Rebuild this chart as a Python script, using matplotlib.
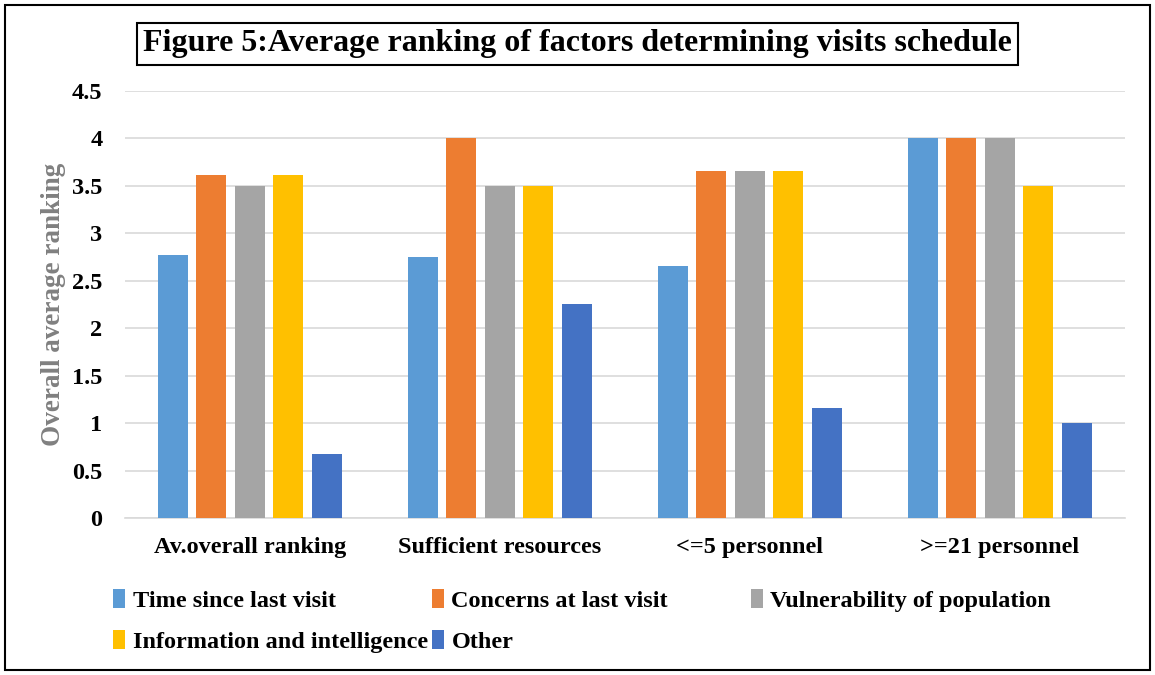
import matplotlib.pyplot as plt
import numpy as np
from matplotlib.patches import Rectangle

plt.rcParams['font.family'] = ['Liberation Serif', 'DejaVu Serif']
plt.rcParams['font.weight'] = 'bold'

# groups on the x axis
categories = ['Av.overall ranking', 'Sufficient resources', '<=5 personnel', '>=21 personnel']

# average ranking per factor, one list per series
time_since = [2.77, 2.75, 2.66, 4.0]
concerns = [3.61, 4.0, 3.66, 4.0]
vulnerability = [3.5, 3.5, 3.66, 4.0]
information = [3.61, 3.5, 3.66, 3.5]
other = [0.67, 2.25, 1.16, 1.0]

series = [time_since, concerns, vulnerability, information, other]
labels = ['Time since last visit', 'Concerns at last visit', 'Vulnerability of population',
          'Information and intelligence', 'Other']
colors = ['#5B9BD5', '#ED7D31', '#A5A5A5', '#FFC000', '#4472C4']

fig = plt.figure(figsize=(11.55, 6.75), dpi=100)
ax = fig.add_axes([0.108, 0.2326, 0.866, 0.6326])

x = np.arange(len(categories))
width = 0.12
step = 0.154
bars = []
for i, (vals, lab, col) in enumerate(zip(series, labels, colors)):
    b = ax.bar(x + (i - 2) * step, vals, width, color=col, label=lab, zorder=3)
    bars.append(b)

ax.set_xlim(-0.5, 3.5)
ax.set_ylim(0, 4.5)
ax.set_yticks(np.arange(0, 4.6, 0.5))
ax.set_yticklabels(['0', '0.5', '1', '1.5', '2', '2.5', '3', '3.5', '4', '4.5'])
ax.set_xticks(x)
ax.set_xticklabels(categories)
ax.tick_params(axis='both', length=0, labelsize=17.5)
ax.tick_params(axis='x', pad=14)
ax.tick_params(axis='y', pad=16)
for t in ax.get_xticklabels() + ax.get_yticklabels():
    t.set_fontweight('bold')
ax.grid(axis='y', color='#d9d9d9', linewidth=1.2, zorder=0)
for s in ['top', 'right', 'left']:
    ax.spines[s].set_visible(False)
ax.spines['bottom'].set_color('#d9d9d9')
ax.spines['bottom'].set_linewidth(1.2)

ax.set_ylabel('Overall average ranking', fontsize=19.5, fontweight='bold', color='#808080', labelpad=4)

# legend: three columns placed at fixed, evenly spaced positions
columns = [[0, 3], [1, 4], [2]]
col_x = [0.098, 0.374, 0.650]
for idx, cx in zip(columns, col_x):
    leg = fig.legend([bars[i] for i in idx], [labels[i] for i in idx], ncol=1,
                     loc='upper left', bbox_to_anchor=(cx, 0.127), frameon=False,
                     prop={'size': 17.5, 'weight': 'bold'}, handlelength=0.5, handleheight=0.8,
                     handletextpad=0.3, labelspacing=0.75, borderpad=0, borderaxespad=0)

fig.text(0.5, 0.935, 'Figure 5:Average ranking of factors determining visits schedule',
         ha='center', va='center', fontsize=23, fontweight='bold',
         bbox=dict(boxstyle='square,pad=0.2', facecolor='white', edgecolor='black', linewidth=1.5))

fig.patches.append(Rectangle((0.004, 0.008), 0.992, 0.984, transform=fig.transFigure,
                             fill=False, edgecolor='black', linewidth=1.5))

fig.savefig('out.png', dpi=100)
